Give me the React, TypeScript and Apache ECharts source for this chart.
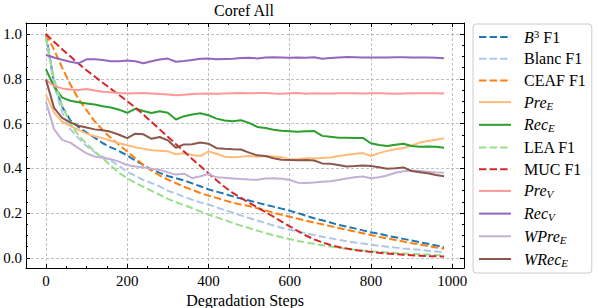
import { useEffect, useRef } from 'react';
import * as echarts from 'echarts';

const STEPS = [0, 20, 40, 60, 80, 100, 120, 140, 160, 180, 200, 220, 240, 260, 280, 300, 320, 340, 360, 380, 400, 420, 440, 460, 480, 500, 520, 540, 560, 580, 600, 620, 640, 660, 680, 700, 720, 740, 760, 780, 800, 820, 840, 860, 880, 900, 920, 940, 960, 980];

const B3_F1 = [1.0, 0.78, 0.675, 0.615, 0.585, 0.56, 0.537, 0.512, 0.494, 0.477, 0.458, 0.435, 0.415, 0.395, 0.38, 0.366, 0.356, 0.346, 0.333, 0.32, 0.306, 0.296, 0.286, 0.275, 0.265, 0.256, 0.247, 0.238, 0.229, 0.22, 0.211, 0.2, 0.189, 0.177, 0.168, 0.158, 0.148, 0.14, 0.132, 0.123, 0.115, 0.108, 0.099, 0.092, 0.085, 0.078, 0.07, 0.063, 0.056, 0.048];
const BLANC_F1 = [0.99, 0.77, 0.65, 0.575, 0.535, 0.5, 0.472, 0.452, 0.435, 0.41, 0.385, 0.366, 0.348, 0.334, 0.32, 0.3, 0.287, 0.273, 0.26, 0.248, 0.238, 0.226, 0.213, 0.202, 0.19, 0.178, 0.167, 0.156, 0.145, 0.135, 0.126, 0.118, 0.11, 0.102, 0.095, 0.088, 0.081, 0.075, 0.069, 0.064, 0.059, 0.054, 0.05, 0.046, 0.042, 0.039, 0.036, 0.032, 0.029, 0.026];
const CEAF_F1 = [1.0, 0.93, 0.85, 0.775, 0.71, 0.66, 0.61, 0.57, 0.535, 0.505, 0.475, 0.445, 0.415, 0.39, 0.368, 0.35, 0.334, 0.318, 0.304, 0.29, 0.278, 0.268, 0.257, 0.247, 0.238, 0.232, 0.222, 0.212, 0.202, 0.193, 0.184, 0.175, 0.166, 0.158, 0.15, 0.142, 0.134, 0.126, 0.118, 0.11, 0.102, 0.094, 0.087, 0.08, 0.073, 0.066, 0.06, 0.053, 0.047, 0.041];
const PRE_E = [0.73, 0.65, 0.608, 0.59, 0.572, 0.555, 0.543, 0.535, 0.523, 0.512, 0.503, 0.494, 0.487, 0.481, 0.479, 0.476, 0.463, 0.468, 0.46, 0.455, 0.475, 0.465, 0.452, 0.45, 0.452, 0.455, 0.452, 0.455, 0.453, 0.45, 0.44, 0.442, 0.445, 0.444, 0.446, 0.448, 0.455, 0.46, 0.465, 0.468, 0.455, 0.468, 0.478, 0.485, 0.491, 0.502, 0.515, 0.522, 0.528, 0.534];
const REC_E = [0.843, 0.765, 0.716, 0.702, 0.695, 0.69, 0.685, 0.677, 0.672, 0.662, 0.648, 0.666, 0.656, 0.647, 0.655, 0.648, 0.618, 0.633, 0.64, 0.646, 0.637, 0.622, 0.614, 0.61, 0.615, 0.603, 0.585, 0.58, 0.572, 0.568, 0.566, 0.563, 0.566, 0.567, 0.545, 0.541, 0.537, 0.537, 0.536, 0.536, 0.512, 0.504, 0.5, 0.505, 0.51, 0.5, 0.496, 0.497, 0.496, 0.492];
const LEA_F1 = [0.98, 0.8, 0.68, 0.6, 0.548, 0.51, 0.475, 0.445, 0.412, 0.38, 0.356, 0.335, 0.317, 0.299, 0.282, 0.264, 0.249, 0.236, 0.222, 0.208, 0.194, 0.181, 0.169, 0.156, 0.144, 0.133, 0.122, 0.111, 0.101, 0.092, 0.084, 0.076, 0.069, 0.063, 0.057, 0.051, 0.046, 0.041, 0.037, 0.033, 0.03, 0.027, 0.024, 0.022, 0.02, 0.018, 0.016, 0.015, 0.013, 0.012];
const MUC_F1 = [1.0, 0.965, 0.932, 0.9, 0.868, 0.838, 0.81, 0.782, 0.755, 0.728, 0.7, 0.672, 0.64, 0.607, 0.574, 0.541, 0.508, 0.475, 0.442, 0.41, 0.378, 0.347, 0.317, 0.29, 0.268, 0.247, 0.226, 0.205, 0.184, 0.162, 0.141, 0.12, 0.1, 0.083, 0.07, 0.058, 0.049, 0.042, 0.036, 0.031, 0.027, 0.023, 0.02, 0.017, 0.014, 0.012, 0.01, 0.008, 0.007, 0.006];
const PRE_V = [0.795, 0.768, 0.757, 0.752, 0.75, 0.754, 0.748, 0.742, 0.74, 0.736, 0.734, 0.735, 0.736, 0.734, 0.732, 0.73, 0.726, 0.729, 0.732, 0.733, 0.734, 0.733, 0.734, 0.735, 0.736, 0.735, 0.736, 0.736, 0.734, 0.733, 0.735, 0.736, 0.733, 0.735, 0.734, 0.734, 0.735, 0.735, 0.735, 0.734, 0.735, 0.735, 0.734, 0.733, 0.734, 0.735, 0.735, 0.735, 0.735, 0.734];
const REC_V = [0.906, 0.895, 0.885, 0.876, 0.869, 0.887, 0.887, 0.884, 0.878, 0.878, 0.882, 0.878, 0.869, 0.878, 0.886, 0.89, 0.876, 0.879, 0.884, 0.889, 0.89, 0.887, 0.888, 0.889, 0.893, 0.894, 0.891, 0.895, 0.896, 0.895, 0.894, 0.895, 0.894, 0.896, 0.889, 0.893, 0.895, 0.897, 0.896, 0.895, 0.895, 0.895, 0.895, 0.896, 0.896, 0.895, 0.895, 0.895, 0.894, 0.892];
const WPRE_E = [0.698, 0.575, 0.527, 0.515, 0.49, 0.467, 0.453, 0.447, 0.441, 0.43, 0.415, 0.408, 0.405, 0.398, 0.393, 0.382, 0.372, 0.376, 0.356, 0.365, 0.375, 0.36, 0.358, 0.355, 0.352, 0.35, 0.349, 0.355, 0.356, 0.354, 0.348, 0.336, 0.335, 0.337, 0.34, 0.342, 0.348, 0.355, 0.36, 0.364, 0.356, 0.36, 0.368, 0.38, 0.387, 0.39, 0.388, 0.385, 0.382, 0.38];
const WREC_E = [0.797, 0.67, 0.625, 0.605, 0.59, 0.582, 0.574, 0.57, 0.563, 0.55, 0.535, 0.555, 0.552, 0.532, 0.54, 0.525, 0.492, 0.507, 0.508, 0.515, 0.51, 0.49, 0.487, 0.485, 0.484, 0.47, 0.458, 0.455, 0.445, 0.438, 0.437, 0.436, 0.437, 0.435, 0.422, 0.42, 0.415, 0.408, 0.41, 0.413, 0.41, 0.405, 0.398, 0.4, 0.404, 0.388, 0.383, 0.378, 0.37, 0.365];

const X_MAJOR = [0, 200, 400, 600, 800, 1000];
const X_MINOR = [50, 100, 150, 250, 300, 350, 450, 500, 550, 650, 700, 750, 850, 900, 950];
const Y_MAJOR = [0, 0.2, 0.4, 0.6, 0.8, 1.0];
const Y_MINOR = [0.05, 0.1, 0.15, 0.25, 0.3, 0.35, 0.45, 0.5, 0.55, 0.65, 0.7, 0.75, 0.85, 0.9, 0.95];

const SERIES = [
  { name: 'B3 F1', values: B3_F1, color: '#1f77b4', dashed: true, label: '{i|B}{sup|3}{n| F1}' },
  { name: 'Blanc F1', values: BLANC_F1, color: '#aec7e8', dashed: true, label: '{n|Blanc F1}' },
  { name: 'CEAF F1', values: CEAF_F1, color: '#ff7f0e', dashed: true, label: '{n|CEAF F1}' },
  { name: 'Pre_E', values: PRE_E, color: '#ffbb78', dashed: false, label: '{i|Pre}{sub|E}' },
  { name: 'Rec_E', values: REC_E, color: '#2ca02c', dashed: false, label: '{i|Rec}{sub|E}' },
  { name: 'LEA F1', values: LEA_F1, color: '#98df8a', dashed: true, label: '{n|LEA F1}' },
  { name: 'MUC F1', values: MUC_F1, color: '#d62728', dashed: true, label: '{n|MUC F1}' },
  { name: 'Pre_V', values: PRE_V, color: '#ff9896', dashed: false, label: '{i|Pre}{sub|V}' },
  { name: 'Rec_V', values: REC_V, color: '#9467bd', dashed: false, label: '{i|Rec}{sub|V}' },
  { name: 'WPre_E', values: WPRE_E, color: '#c5b0d5', dashed: false, label: '{i|WPre}{sub|E}' },
  { name: 'WRec_E', values: WREC_E, color: '#8c564b', dashed: false, label: '{i|WRec}{sub|E}' },
];

const FONT = 'Liberation Serif';
const X_MIN = -49;
const X_MAX = 1029;
const Y_MIN = -0.045;
const Y_MAX = 1.049;

export default function App() {
  const ref = useRef<HTMLDivElement>(null);
  useEffect(() => {
    if (!ref.current) return;
    const chart = echarts.init(ref.current, null, { renderer: 'svg' });
    const labelMap: Record<string, string> = {};
    SERIES.forEach((s) => (labelMap[s.name] = s.label));

    const tickLine = { color: '#000', width: 1 };
    const mkX = (position: string, ticks: number[], len: number, main: boolean) => ({
      type: 'value',
      position,
      min: X_MIN,
      max: X_MAX,
      axisLine: { show: main, onZero: false, lineStyle: { color: '#000', width: 1 } },
      axisTick: { show: true, inside: true, length: len, customValues: ticks, lineStyle: tickLine },
      axisLabel: main && position === 'bottom'
        ? {
            show: true,
            customValues: X_MAJOR,
            margin: 5,
            color: '#000',
            fontFamily: FONT,
            fontSize: 15,
            formatter: (v: number) => String(Math.round(v)),
          }
        : { show: false },
      splitLine: main && position === 'bottom'
        ? { show: true, lineStyle: { color: '#b0b0b0', width: 0.8, type: [3, 2] } }
        : { show: false },
      ...(main && position === 'bottom'
        ? {
            name: 'Degradation Steps',
            nameLocation: 'middle',
            nameGap: 20,
            nameTextStyle: { color: '#000', fontFamily: FONT, fontSize: 16 },
          }
        : {}),
    });
    const mkY = (position: string, ticks: number[], len: number, main: boolean) => ({
      type: 'value',
      position,
      min: Y_MIN,
      max: Y_MAX,
      axisLine: { show: main, onZero: false, lineStyle: { color: '#000', width: 1 } },
      axisTick: { show: true, inside: true, length: len, customValues: ticks, lineStyle: tickLine },
      axisLabel: main && position === 'left'
        ? {
            show: true,
            customValues: Y_MAJOR,
            margin: 4,
            color: '#000',
            fontFamily: FONT,
            fontSize: 15,
            formatter: (v: number) => v.toFixed(1),
          }
        : { show: false },
      splitLine: main && position === 'left'
        ? { show: true, lineStyle: { color: '#b0b0b0', width: 0.8, type: [3, 2] } }
        : { show: false },
    });

    chart.setOption({
      animation: false,
      backgroundColor: '#ffffff',
      title: {
        text: 'Coref All',
        left: 214,
        top: 2,
        padding: 0,
        textStyle: { fontFamily: FONT, fontSize: 16, fontWeight: 'normal', color: '#000' },
      },
      grid: { left: 26, right: 134, top: 23, bottom: 40, containLabel: false, outerBoundsMode: 'none' },
      xAxis: [
        mkX('bottom', X_MAJOR, 4, true),
        mkX('top', X_MAJOR, 4, true),
        mkX('bottom', X_MINOR, 2, false),
        mkX('top', X_MINOR, 2, false),
      ],
      yAxis: [
        mkY('left', Y_MAJOR, 4, true),
        mkY('right', Y_MAJOR, 4, true),
        mkY('left', Y_MINOR, 2, false),
        mkY('right', Y_MINOR, 2, false),
      ],
      legend: {
        orient: 'vertical',
        left: 473,
        top: 24,
        padding: [4, 6, 5, 5],
        itemWidth: 32,
        itemHeight: 14,
        itemGap: 5.7,
        borderColor: '#cccccc',
        borderWidth: 1,
        borderRadius: 3,
        backgroundColor: '#ffffff',
        itemStyle: { opacity: 0, borderWidth: 0 },
        data: SERIES.map((s) => s.name),
        formatter: (name: string) => labelMap[name] || name,
        textStyle: {
          color: '#000',
          fontFamily: FONT,
          fontSize: 16,
          padding: [0, 0, 0, 8],
          rich: {
            n: { fontFamily: FONT, fontSize: 16, color: '#000', lineHeight: 18 },
            i: { fontFamily: FONT, fontSize: 16, fontStyle: 'italic', color: '#000', lineHeight: 18 },
            sub: { fontFamily: FONT, fontSize: 11, fontStyle: 'italic', color: '#000', lineHeight: 10, verticalAlign: 'bottom' },
            sup: { fontFamily: FONT, fontSize: 11, color: '#000', lineHeight: 10, verticalAlign: 'top' },
          },
        },
      },
      series: SERIES.map((s) => ({
        name: s.name,
        type: 'line',
        xAxisIndex: 0,
        yAxisIndex: 0,
        symbol: 'none',
        showSymbol: false,
        data: STEPS.map((x, i) => [x, s.values[i]]),
        lineStyle: { color: s.color, width: 2, type: s.dashed ? [7.4, 3.2] : 'solid' },
        itemStyle: { color: s.color },
        emphasis: { disabled: true },
      })),
    });
    return () => chart.dispose();
  }, []);
  return (
    <div
      ref={ref}
      style={{ position: 'fixed', left: 0, top: 0, width: 598, height: 308, background: '#fff' }}
    />
  );
}
